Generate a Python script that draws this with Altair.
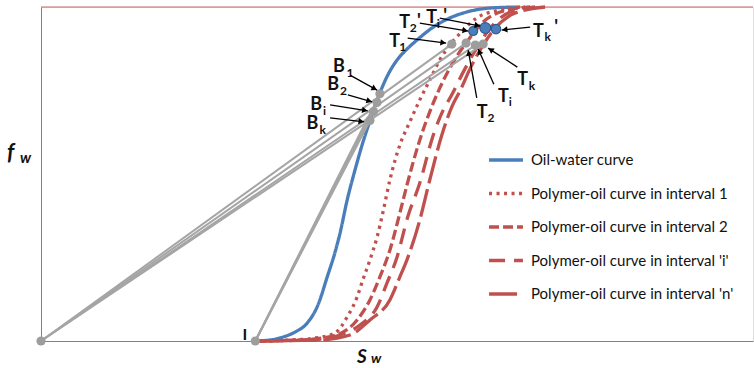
import math
import altair as alt
import pandas as pd

W, H = 712, 334

series_names = ["Oil-water curve", "Polymer-oil curve in interval 1",
                "Polymer-oil curve in interval 2", "Polymer-oil curve in interval 'i'",
                "Polymer-oil curve in interval 'n'"]

ow_sw = [0.301, 0.322, 0.340, 0.357, 0.374, 0.389, 0.402, 0.413, 0.420, 0.430, 0.441, 0.451, 0.462, 0.476, 0.487, 0.500, 0.514, 0.528, 0.551, 0.574, 0.598, 0.631, 0.673]
ow_fw = [0.000, 0.003, 0.012, 0.027, 0.054, 0.108, 0.192, 0.266, 0.323, 0.422, 0.512, 0.587, 0.659, 0.743, 0.796, 0.841, 0.874, 0.901, 0.940, 0.967, 0.985, 0.997, 1.000]

p1_sw = [0.301, 0.350, 0.385, 0.413, 0.430, 0.444, 0.452, 0.462, 0.472, 0.480, 0.490, 0.504, 0.518, 0.532, 0.546, 0.560, 0.574, 0.589, 0.612, 0.645, 0.680]
p1_fw = [0.000, 0.003, 0.009, 0.024, 0.072, 0.132, 0.183, 0.243, 0.311, 0.383, 0.482, 0.587, 0.656, 0.722, 0.781, 0.841, 0.886, 0.922, 0.967, 0.991, 1.000]

p2_sw = [0.301, 0.364, 0.410, 0.444, 0.462, 0.476, 0.490, 0.504, 0.514, 0.532, 0.546, 0.560, 0.579, 0.598, 0.621, 0.645, 0.687]
p2_fw = [0.000, 0.003, 0.015, 0.063, 0.123, 0.192, 0.272, 0.383, 0.467, 0.602, 0.686, 0.757, 0.835, 0.895, 0.955, 0.985, 1.000]

pi_sw = [0.301, 0.378, 0.420, 0.448, 0.472, 0.486, 0.500, 0.515, 0.532, 0.551, 0.565, 0.577, 0.593, 0.612, 0.631, 0.659, 0.694]
pi_fw = [0.000, 0.003, 0.018, 0.048, 0.102, 0.174, 0.251, 0.371, 0.473, 0.617, 0.692, 0.737, 0.805, 0.877, 0.937, 0.985, 1.000]

pn_sw = [0.301, 0.392, 0.434, 0.462, 0.490, 0.504, 0.514, 0.532, 0.546, 0.563, 0.577, 0.589, 0.603, 0.621, 0.638, 0.666, 0.708]
pn_fw = [0.000, 0.003, 0.018, 0.063, 0.123, 0.192, 0.243, 0.362, 0.482, 0.617, 0.701, 0.751, 0.817, 0.886, 0.937, 0.982, 1.000]

# gray points: origin, I, B1, B2, Bi, Bk, T1, T2, Ti, Tk
pt_names = ["O", "I", "B1", "B2", "Bi", "Bk", "T1", "T2", "Ti", "Tk"]
pt_sw = [0.0, 0.301, 0.476, 0.472, 0.467, 0.462, 0.577, 0.597, 0.610, 0.621]
pt_fw = [0.0, 0.000, 0.740, 0.714, 0.687, 0.660, 0.889, 0.892, 0.886, 0.889]

# blue points T2', Ti', Tk'
bp_sw = [0.607, 0.624, 0.639]
bp_fw = [0.928, 0.937, 0.934]
bp_size = [80, 120, 90]

# tangent segments: origin -> T_j and I -> B_j
seg_from = ["O", "O", "O", "O", "I", "I", "I", "I"]
seg_to = ["T1", "T2", "Ti", "Tk", "B1", "B2", "Bi", "Bk"]

# arrows (start -> tip)
ar_x1 = [0.434, 0.431, 0.406, 0.406, 0.515, 0.532, 0.560, 0.687, 0.669, 0.636, 0.612]
ar_y1 = [0.796, 0.737, 0.707, 0.668, 0.907, 0.952, 0.967, 0.940, 0.820, 0.769, 0.728]
ar_x2 = [0.472, 0.465, 0.459, 0.454, 0.569, 0.600, 0.617, 0.647, 0.628, 0.614, 0.600]
ar_y2 = [0.751, 0.716, 0.689, 0.656, 0.892, 0.928, 0.943, 0.931, 0.877, 0.874, 0.871]

# labels: main letters
lm_text = ["B", "B", "B", "B", "T", "T", "'", "T", "'", "T", "'", "T", "T", "T", "I"]
lm_x = [0.410, 0.402, 0.378, 0.373, 0.489, 0.503, 0.528, 0.541, 0.565, 0.691, 0.721, 0.669, 0.642, 0.612, 0.283]
lm_y = [0.805, 0.751, 0.692, 0.635, 0.880, 0.937, 0.940, 0.952, 0.955, 0.910, 0.922, 0.766, 0.716, 0.668, 0.003]
lm_size = [18, 18, 18, 18, 18, 18, 18, 18, 18, 18, 18, 18, 18, 18, 16]
# subscripts
ls_text = ["1", "2", "i", "k", "1", "2", "i", "k", "k", "i", "2"]
ls_x = [0.429, 0.420, 0.396, 0.391, 0.503, 0.518, 0.556, 0.707, 0.685, 0.657, 0.627]
ls_y = [0.790, 0.737, 0.677, 0.620, 0.868, 0.925, 0.937, 0.898, 0.751, 0.704, 0.656]

BLUE = "#4A7EBB"
RED = "#C0504D"
GRAY = "#A5A5A5"
BORDER = "#C86461"
FONT = "Lato"

rows = []
for name, xs, ys in zip(series_names, [ow_sw, p1_sw, p2_sw, pi_sw, pn_sw],
                        [ow_fw, p1_fw, p2_fw, pi_fw, pn_fw]):
    for i, (a, b) in enumerate(zip(xs, ys)):
        rows.append({"series": name, "sw": a, "fw": b, "idx": i})
curve_df = pd.DataFrame(rows)

pts = dict(zip(pt_names, zip(pt_sw, pt_fw)))
seg_df = pd.DataFrame({
    "x": [pts[a][0] for a in seg_from], "y": [pts[a][1] for a in seg_from],
    "x2": [pts[b][0] for b in seg_to], "y2": [pts[b][1] for b in seg_to],
})
gpt_df = pd.DataFrame({"sw": pt_sw, "fw": pt_fw})
bpt_df = pd.DataFrame({"sw": bp_sw, "fw": bp_fw, "s": bp_size})

heads = []
for x1, y1, x2, y2 in zip(ar_x1, ar_y1, ar_x2, ar_y2):
    dxs = (x2 - x1) * W
    dys = -(y2 - y1) * H
    ln = math.hypot(dxs, dys)
    ang = math.degrees(math.atan2(dxs, -dys)) % 360
    cx = x2 - dxs / ln * 3.0 / W
    cy = y2 + dys / ln * 3.0 / H
    heads.append({"x": cx, "y": cy, "ang": ang})
arrow_df = pd.DataFrame({"x": ar_x1, "y": ar_y1, "x2": ar_x2, "y2": ar_y2})
head_df = pd.DataFrame(heads)

lm_df = pd.DataFrame({"t": lm_text, "x": lm_x, "y": lm_y, "s": lm_size})
ls_df = pd.DataFrame({"t": ls_text, "x": ls_x, "y": ls_y})

xs_ = alt.Scale(domain=[0, 1], nice=False, zero=False)
ys_ = alt.Scale(domain=[0, 1], nice=False, zero=False)
xaxis = alt.Axis(title=None, labels=False, ticks=False, grid=False, domainColor=BORDER, domainWidth=1)
yaxis = alt.Axis(title=None, labels=False, ticks=False, grid=False, domainColor=BORDER, domainWidth=1)

top_border = alt.Chart(pd.DataFrame({"v": [1.0]})).mark_rule(color=BORDER, strokeWidth=1).encode(
    y=alt.Y("v:Q", scale=ys_, axis=yaxis))

leg = alt.Legend(title=None, orient="none", legendX=446, legendY=134, symbolType="stroke",
                 symbolSize=1150, symbolStrokeWidth=3.5, labelFont=FONT, labelFontSize=15,
                 labelColor="#111", labelOffset=6, rowPadding=6.5, padding=0, labelLimit=400)

curves = alt.Chart(curve_df).mark_line(strokeWidth=3.3, interpolate="monotone").encode(
    x=alt.X("sw:Q", scale=xs_, axis=xaxis),
    y=alt.Y("fw:Q", scale=ys_, axis=yaxis),
    color=alt.Color("series:N", scale=alt.Scale(domain=series_names, range=[BLUE, RED, RED, RED, RED]), legend=leg),
    strokeDash=alt.StrokeDash("series:N", scale=alt.Scale(domain=series_names,
                              range=[[1, 0], [3, 4.5], [10, 4], [16, 9], [28, 6]]), legend=leg),
    order="idx:Q",
)

segs = alt.Chart(seg_df).mark_rule(color=GRAY, strokeWidth=2).encode(
    x=alt.X("x:Q", scale=xs_), y=alt.Y("y:Q", scale=ys_), x2="x2:Q", y2="y2:Q")

gpts = alt.Chart(gpt_df).mark_circle(color="#9D9D9D", opacity=1, size=85).encode(
    x=alt.X("sw:Q", scale=xs_), y=alt.Y("fw:Q", scale=ys_))

bpts = alt.Chart(bpt_df).mark_point(filled=True, fill=BLUE, stroke="#2F5A8F", strokeWidth=1.2, opacity=1).encode(
    x=alt.X("sw:Q", scale=xs_), y=alt.Y("fw:Q", scale=ys_), size=alt.Size("s:Q", scale=None))

arrows = alt.Chart(arrow_df).mark_rule(color="black", strokeWidth=1.3).encode(
    x=alt.X("x:Q", scale=xs_), y=alt.Y("y:Q", scale=ys_), x2="x2:Q", y2="y2:Q")

heads_l = alt.Chart(head_df).mark_point(shape="triangle-up", filled=True, color="black", size=40, opacity=1).encode(
    x=alt.X("x:Q", scale=xs_), y=alt.Y("y:Q", scale=ys_), angle=alt.Angle("ang:Q", scale=None))

lab_main = alt.Chart(lm_df).mark_text(font=FONT, fontWeight="bold", align="left", baseline="alphabetic", color="#111").encode(
    x=alt.X("x:Q", scale=xs_), y=alt.Y("y:Q", scale=ys_), text="t:N", size=alt.Size("s:Q", scale=None))

lab_sub = alt.Chart(ls_df).mark_text(font=FONT, fontWeight="bold", fontSize=12, align="left", baseline="alphabetic", color="#111").encode(
    x=alt.X("x:Q", scale=xs_), y=alt.Y("y:Q", scale=ys_), text="t:N")

ax_titles = [
    alt.Chart(pd.DataFrame({"t": ["f"]})).mark_text(font=FONT, fontWeight="bold", fontStyle="italic", fontSize=22,
        align="left", baseline="alphabetic", color="#111").encode(x=alt.value(-34), y=alt.value(153), text="t:N"),
    alt.Chart(pd.DataFrame({"t": ["w"]})).mark_text(font=FONT, fontWeight="bold", fontStyle="italic", fontSize=15,
        align="left", baseline="alphabetic", color="#111").encode(x=alt.value(-21), y=alt.value(156), text="t:N"),
    alt.Chart(pd.DataFrame({"t": ["S"]})).mark_text(font=FONT, fontWeight="bold", fontStyle="italic", fontSize=19,
        align="left", baseline="alphabetic", color="#111").encode(x=alt.value(316), y=alt.value(356), text="t:N"),
    alt.Chart(pd.DataFrame({"t": ["w"]})).mark_text(font=FONT, fontWeight="bold", fontStyle="italic", fontSize=14,
        align="left", baseline="alphabetic", color="#111").encode(x=alt.value(330), y=alt.value(356), text="t:N"),
]

chart = alt.layer(top_border, curves, segs, gpts, bpts, arrows, heads_l, lab_main, lab_sub, *ax_titles).properties(
    width=W, height=H, padding={"left": 41, "top": 7, "right": 1, "bottom": 27},
    autosize=alt.AutoSizeParams(type="none"),
).configure_view(stroke=None).configure(background="white")

chart.save("out.html", embed_options={"renderer": "svg", "actions": False})
